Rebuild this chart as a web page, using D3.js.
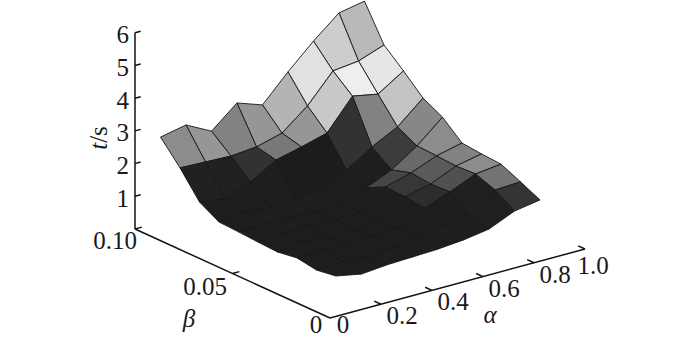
<!DOCTYPE html>
<html>
<head>
<meta charset="utf-8">
<script src="https://d3js.org/d3.v7.min.js"></script>
<style>
  html, body { margin: 0; padding: 0; background: #fff; }
  text { font-family: "Liberation Serif", serif; font-size: 25px; fill: #1a1a1a; }
</style>
</head>
<body>
<div id="chart-area"></div>
<script>
const alphaValues = [0.1, 0.2, 0.3, 0.4, 0.5, 0.6, 0.7, 0.8, 0.9];
const betaValues = [0.01, 0.02, 0.03, 0.04, 0.05, 0.06, 0.07, 0.08, 0.09, 0.10];

// t/s, one row per beta, one column per alpha
const tValues = [
  [0.80, 0.65, 0.72, 0.75, 0.78, 0.85, 0.97, 1.31, 1.44],
  [0.71, 0.75, 0.69, 0.78, 0.85, 1.06, 1.13, 1.68, 1.72],
  [0.81, 0.84, 0.78, 0.88, 0.88, 1.28, 1.56, 1.90, 1.99],
  [0.72, 0.85, 0.72, 0.76, 0.85, 1.35, 1.53, 1.87, 2.03],
  [0.75, 0.82, 0.79, 0.82, 0.83, 1.38, 1.60, 1.91, 2.09],
  [0.79, 0.82, 0.82, 0.76, 0.83, 1.08, 1.42, 1.94, 2.61],
  [0.82, 0.89, 0.83, 0.92, 1.02, 1.35, 1.85, 2.25, 2.92],
  [1.16, 1.04, 1.35, 1.81, 2.00, 2.21, 3.13, 2.98, 3.48],
  [1.93, 1.90, 1.87, 1.94, 2.15, 2.77, 3.63, 3.72, 4.00],
  [2.60, 2.76, 2.36, 3.01, 2.74, 3.54, 4.27, 4.92, 5.07]
];

// grey level of each facet
const facetGrey = [
  [30, 30, 30, 30, 30, 30, 32, 52],
  [30, 30, 30, 30, 30, 30, 32, 115],
  [30, 30, 30, 30, 30, 45, 80, 140],
  [30, 30, 30, 30, 30, 55, 90, 130],
  [30, 30, 30, 30, 30, 70, 105, 140],
  [30, 30, 30, 30, 30, 30, 60, 135],
  [30, 30, 30, 28, 28, 50, 130, 195],
  [33, 33, 50, 120, 150, 200, 238, 230],
  [140, 150, 130, 150, 180, 225, 205, 185]
];

const alphaTicks = [0, 0.2, 0.4, 0.6, 0.8, 1.0];
const alphaTickLabels = ['0', '0.2', '0.4', '0.6', '0.8', '1.0'];
const betaTicks = [0, 0.05, 0.10];
const betaTickLabels = ['0', '0.05', '0.10'];
const tTicks = [1, 2, 3, 4, 5, 6];

const origin = {x: 330, y: 318};

const svg = d3.select('#chart-area').append('svg')
  .attr('width', 700)
  .attr('height', 338)
  .style('display', 'block');

// oblique projection of the box
const alphaX = d3.scaleLinear().domain([0, 1]).range([0, 255]);
const alphaY = d3.scaleLinear().domain([0, 1]).range([0, -69]);
const betaX = d3.scaleLinear().domain([0, 0.1]).range([0, -195]);
const betaY = d3.scaleLinear().domain([0, 0.1]).range([0, -89]);
const tY = d3.scaleLinear().domain([0, 6]).range([0, -196.2]);

const project = (a, b, t) => [
  origin.x + alphaX(a) + betaX(b),
  origin.y + alphaY(a) + betaY(b) + tY(t)
];

const line = d3.line();

// facets, back to front
const facets = [];
for (let j = betaValues.length - 2; j >= 0; j--) {
  for (let i = alphaValues.length - 2; i >= 0; i--) {
    facets.push({i, j});
  }
}

svg.append('g').selectAll('path')
  .data(facets)
  .enter()
  .append('path')
  .attr('d', d => line([
    project(alphaValues[d.i], betaValues[d.j], tValues[d.j][d.i]),
    project(alphaValues[d.i + 1], betaValues[d.j], tValues[d.j][d.i + 1]),
    project(alphaValues[d.i + 1], betaValues[d.j + 1], tValues[d.j + 1][d.i + 1]),
    project(alphaValues[d.i], betaValues[d.j + 1], tValues[d.j + 1][d.i])
  ]) + 'Z')
  .attr('fill', d => {
    const g = facetGrey[d.j][d.i];
    return d3.rgb(g, g, g);
  })
  .attr('stroke', '#161616')
  .attr('stroke-width', 0.9)
  .attr('stroke-linejoin', 'round');

// axes
const axes = svg.append('g')
  .attr('stroke', '#111')
  .attr('stroke-width', 1.5)
  .attr('fill', 'none');

axes.append('path').attr('d', line([project(0, 0, 0), project(1, 0, 0)]));
axes.append('path').attr('d', line([project(0, 0, 0), project(0, 0.1, 0)]));
axes.append('path').attr('d', line([project(0, 0.1, 0), project(0, 0.1, 6)]));

axes.selectAll('.alpha-tick')
  .data(alphaTicks.slice(1))
  .enter()
  .append('path')
  .attr('d', d => line([project(d, 0, 0), project(d, 0.0035, 0)]));

axes.selectAll('.beta-tick')
  .data(betaTicks.slice(1))
  .enter()
  .append('path')
  .attr('d', d => line([project(0, d, 0), project(0.027, d, 0)]));

axes.selectAll('.t-tick')
  .data(tTicks)
  .enter()
  .append('path')
  .attr('d', d => line([project(0, 0.1, d), project(0.022, 0.1, d)]));

// tick labels
const alphaLabelOffset = d => d === 0 ? [13, 14.5] : d === 1 ? [8, 25] : [21, 20];
const betaLabelOffset = d => d === 0 ? [-14, 14.5] : d === 0.05 ? [-27.5, 21.5] : [-20, 20];

svg.selectAll('.alpha-label')
  .data(alphaTicks)
  .enter()
  .append('text')
  .attr('text-anchor', 'middle')
  .attr('x', d => project(d, 0, 0)[0] + alphaLabelOffset(d)[0])
  .attr('y', d => project(d, 0, 0)[1] + alphaLabelOffset(d)[1])
  .text((d, i) => alphaTickLabels[i]);

svg.selectAll('.beta-label')
  .data(betaTicks)
  .enter()
  .append('text')
  .attr('text-anchor', 'middle')
  .attr('x', d => project(0, d, 0)[0] + betaLabelOffset(d)[0])
  .attr('y', d => project(0, d, 0)[1] + betaLabelOffset(d)[1])
  .text((d, i) => betaTickLabels[i]);

svg.selectAll('.t-label')
  .data(tTicks)
  .enter()
  .append('text')
  .attr('text-anchor', 'end')
  .attr('x', d => project(0, 0.1, d)[0] - 6)
  .attr('y', d => project(0, 0.1, d)[1] + 10.5)
  .text(d => d);

// axis titles
svg.append('text')
  .attr('x', 490)
  .attr('y', 323)
  .attr('text-anchor', 'middle')
  .style('font-style', 'italic')
  .text('α');

svg.append('text')
  .attr('x', 189)
  .attr('y', 327)
  .attr('text-anchor', 'middle')
  .style('font-style', 'italic')
  .text('β');

const tTitle = svg.append('text')
  .attr('transform', 'translate(107, 138) rotate(-90)')
  .attr('text-anchor', 'middle');
tTitle.append('tspan').style('font-style', 'italic').text('t');
tTitle.append('tspan').text('/s');
</script>
</body>
</html>
